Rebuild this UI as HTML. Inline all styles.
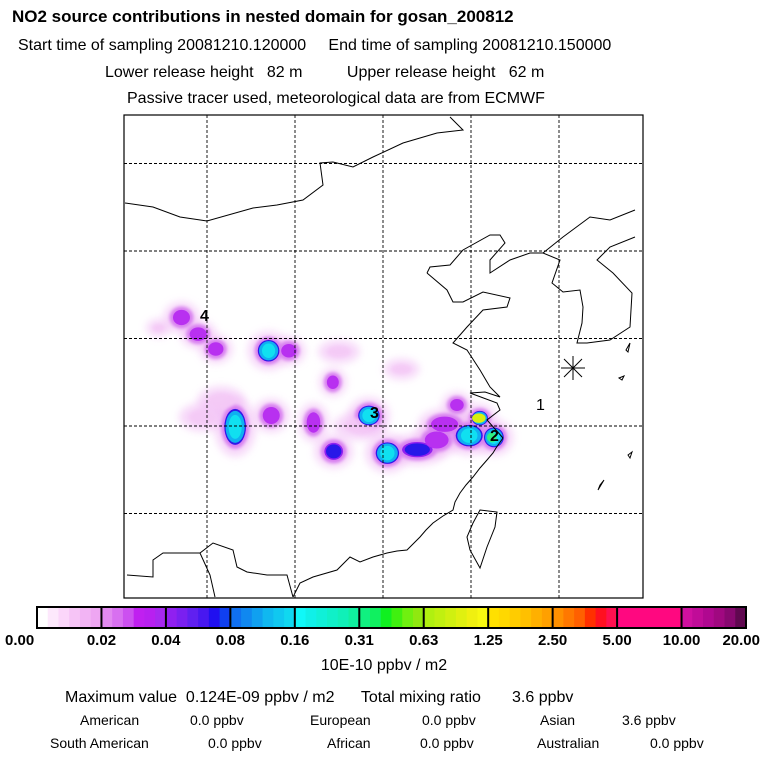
<!DOCTYPE html>
<html><head><meta charset="utf-8"><style>
body{margin:0;background:#fff;width:768px;height:768px;overflow:hidden;font-family:"Liberation Sans",Arial,sans-serif}
svg{position:absolute;left:0;top:0}
</style></head><body>
<svg id="c" width="768" height="768">
<defs><filter id="bl" x="-50%" y="-50%" width="200%" height="200%"><feGaussianBlur stdDeviation="4"/></filter>
<filter id="bl2" x="-50%" y="-50%" width="200%" height="200%"><feGaussianBlur stdDeviation="1.5"/></filter>
<clipPath id="mc"><rect x="124" y="115" width="519" height="483"/></clipPath></defs>
<text x="12" y="22" font-size="17" font-weight="bold">NO2 source contributions in nested domain for gosan_200812</text>
<text x="18" y="50" font-size="16" xml:space="preserve">Start time of sampling 20081210.120000     End time of sampling 20081210.150000</text>
<text x="105" y="77" font-size="16" xml:space="preserve">Lower release height   82 m          Upper release height   62 m</text>
<text x="127" y="103" font-size="16">Passive tracer used, meteorological data are from ECMWF</text>
<g id="map"><g id="blobs" clip-path="url(#mc)"></g>
<g id="coast" fill="none" stroke="#000" stroke-width="1">
<path d="M125 203 L153 207 L180 217 L207 221 L253 208 L277 205 L303 200 L323 185 L320 163 L333 162 L353 167 L373 157 L403 143 L437 133 L463 130 L450 117"/>
<path d="M427 273 L430 267 L450 265 L463 250 L490 235 L500 235 L505 243 L490 260 L490 273 L510 260 L530 253 L543 253 L560 260 L552 283 L563 292 L580 290 L583 307 L582 323 L577 343 L587 343 L610 340 L630 327 L632 293 L613 273 L597 260 L610 247 L635 237"/>
<path d="M543 253 L563 237 L590 217 L610 220 L635 210"/>
<path d="M427 273 L447 290 L453 302 L463 302 L483 292 L510 298 L507 307 L483 310 L467 327 L453 343 L467 350 L480 370 L490 387 L500 397 L485 392 L470 393 L497 403 L500 410 L487 420 L503 438"/>
<path d="M503 438 L496 448 L493 453 L487 460 L480 468 L473 477 L466 485 L460 493 L455 502 L453 510 L443 516 L433 523 L426 530 L420 537 L413 544 L407 550 L397 551 L387 553 L373 557 L360 562 L350 557 L337 570 L313 577 L300 583 L293 597"/>
<path d="M293 597 L287 575 L267 575 L247 572 L237 567 L233 550 L213 543 L200 553 L180 553 L163 553 L153 560 L153 577 L127 575 M200 553 L210 575 L215 597"/>
<path d="M480 510 L497 512 L495 527 L487 547 L480 568 L470 550 L467 537 L473 523 Z"/>
<path d="M626 350 L630 343 L628 352 Z M619 378 L624 376 L622 380 Z M600 485 L604 480 L598 490 Z M628 455 L632 452 L630 458 Z"/>
</g><g id="grid"></g></g>
<g id="cb"></g>
<text x="384" y="670" font-size="16" text-anchor="middle">10E-10 ppbv / m2</text>
<text x="65" y="702" font-size="16" xml:space="preserve">Maximum value  0.124E-09 ppbv / m2      Total mixing ratio       3.6 ppbv</text>
<text x="80" y="725" font-size="14">American</text>
<text x="190" y="725" font-size="14">0.0 ppbv</text>
<text x="310" y="725" font-size="14">European</text>
<text x="422" y="725" font-size="14">0.0 ppbv</text>
<text x="540" y="725" font-size="14">Asian</text>
<text x="622" y="725" font-size="14">3.6 ppbv</text>
<text x="50" y="748" font-size="14">South American</text>
<text x="208" y="748" font-size="14">0.0 ppbv</text>
<text x="327" y="748" font-size="14">African</text>
<text x="420" y="748" font-size="14">0.0 ppbv</text>
<text x="537" y="748" font-size="14">Australian</text>
<text x="650" y="748" font-size="14">0.0 ppbv</text>
</svg>
<script>
const cbLabels=["0.00","0.02","0.04","0.08","0.16","0.31","0.63","1.25","2.50","5.00","10.00","20.00"];
const cbColors=[["#fff","#fde8fc","#fbd6fa","#f6c4f6","#f2b4f4","#eea6f2"],["#e28af0","#d870f0","#cc50f0","#c020f0","#b820f0","#a828f0"],["#9020f0","#7a20f0","#6020f0","#4818f0","#2010f0","#1040f0"],["#1070f0","#1088f0","#10a0f0","#10b8f0","#10c8f0","#10d8f0"],["#10f8f8","#10f0e8","#10f0d8","#10f0c8","#10f0b8","#10f0a0"],["#10f080","#10f060","#10f020","#40f010","#70f010","#90e810"],["#b0f010","#c0f010","#d0f010","#e0f010","#f0f010","#f8f810"],["#ffe000","#ffd800","#ffcc00","#ffc000","#ffb000","#ffa000"],["#ff9000","#ff7800","#ff6000","#ff3000","#ff1020","#ff1050"],["#ff0880","#ff0880","#ff0880","#ff0880","#ff0880","#ff0880"],["#d010a0","#c00c98","#b00890","#a00880","#880870","#600850"]];
const gridLons=[90,100,110,120,130];
const gridLats=[20,30,40,50,60];
const blobLon=[84.5,87.1,89.0,91.0,97.0,99.3,105.0,104.3,112.1,93.2,89.5,97.3,91.6,102.1,104.4,108.4,110.5,113.9,116.1,118.4,121.0,119.8,122.6,107.4,117.0];
const blobLat=[41.2,42.4,40.5,38.8,38.6,38.6,38.5,35.0,36.5,29.9,31.0,31.2,32.9,30.4,27.1,31.2,26.9,27.3,28.4,32.4,30.9,28.9,28.7,30.0,30.2];
const blobVal=[0.01,0.035,0.03,0.03,0.2,0.03,0.012,0.03,0.01,0.2,0.015,0.03,0.012,0.035,0.07,0.18,0.2,0.06,0.035,0.035,1.0,0.15,0.3,0.012,0.03];
const blobRx=[6,10,10,9,12,9,12,7,10,12,14,10,14,8,11,12,13,18,14,8,9,15,11,16,16];
const blobRy=[4,9,8,8,12,8,6,8,5,20,8,10,8,12,10,11,12,9,10,7,8,12,11,8,9];
const NS="http://www.w3.org/2000/svg";
const X0=124,X1=643,Y0=115,Y1=598;
const xLon=l=>207+(l-90)*8.8, yLat=l=>426-(l-30)*8.75;
function mk(t,a,p){const e=document.createElementNS(NS,t);for(const k in a)e.setAttribute(k,a[k]);p.appendChild(e);return e;}
const cb=document.getElementById('cb');
const cbx=37,cbw=709/11;
cbColors.forEach((seg,i)=>{seg.forEach((c,j)=>{const r=mk('rect',{x:cbx+i*cbw+j*cbw/6,y:607,width:cbw/6+0.5,height:21,fill:c},cb);

});
const d=mk('line',{x1:cbx+i*cbw,x2:cbx+i*cbw,y1:607,y2:628,stroke:'#000','stroke-width':2},cb);

});
mk('rect',{x:cbx,y:607,width:709,height:21,fill:'none',stroke:'#000','stroke-width':2},cb);
cbLabels.forEach((s,i)=>{const t=mk('text',{x:cbx+i*cbw,y:645,'font-size':15,'font-weight':'bold','text-anchor':i==0?'start':(i==11?'end':'middle')},cb);t.textContent=s;
if(i==0)t.setAttribute('x',5);if(i==11)t.setAttribute('x',760);

});
const g=document.getElementById('blobs');
const halo=mk('g',{},g),mid=mk('g',{},g),core=mk('g',{},g);
blobLon.forEach((lo,i)=>{const v=blobVal[i],cx=xLon(lo),cy=yLat(blobLat[i]),rx=blobRx[i],ry=blobRy[i];
const h=mk('ellipse',{cx:cx,cy:cy,rx:rx*1.4+4,ry:ry*1.3+4,fill:'#f0b8f4',opacity:0.55,filter:'url(#bl)'},halo);


if(v<0.02){mk('ellipse',{cx:cx,cy:cy,rx:rx,ry:ry,fill:'#f4c8f6',opacity:0.8,filter:'url(#bl2)'},mid);return;}
mk('ellipse',{cx:cx,cy:cy,rx:rx+2,ry:ry+2,fill:'#d880f0',filter:'url(#bl2)'},mid);
const cg=mk('g',{},core);
mk('ellipse',{cx:cx,cy:cy,rx:rx*0.85,ry:ry*0.85,fill:v>=0.04?'#9020f0':'#b830f0'},cg);
if(v>=0.04)mk('ellipse',{cx:cx,cy:cy,rx:rx*0.7,ry:ry*0.7,fill:'#2818e8'},cg);
if(v>=0.08){mk('ellipse',{cx:cx,cy:cy,rx:rx*0.9,ry:ry*0.9,fill:'#3018e8'},cg);mk('ellipse',{cx:cx,cy:cy,rx:rx*0.8,ry:ry*0.8,fill:'#10b0f0'},cg);mk('ellipse',{cx:cx,cy:cy,rx:rx*0.55,ry:ry*0.6,fill:'#10e0f0'},cg);}
if(v>=0.3){mk('ellipse',{cx:cx-2,cy:cy,rx:rx*0.45,ry:ry*0.45,fill:'#30f080'},cg);}
if(v>=0.63){mk('ellipse',{cx:cx-1,cy:cy,rx:rx*0.75,ry:ry*0.6,fill:'#d8f010'},cg);}
});
const grid=document.getElementById('grid');
gridLons.forEach(l=>{const x=xLon(l);const e=mk('line',{x1:x,x2:x,y1:Y0,y2:Y1,stroke:'#000','stroke-dasharray':'3,2','stroke-width':0.9},grid);

});
gridLats.forEach(l=>{const y=yLat(l);if(y<Y0||y>Y1)return;const e=mk('line',{x1:X0,x2:X1,y1:y,y2:y,stroke:'#000','stroke-dasharray':'3,2','stroke-width':0.9},grid);

});
mk('rect',{x:X0,y:Y0,width:X1-X0,height:Y1-Y0,fill:'none',stroke:'#000','stroke-width':1.2},grid);
[["4",200,321],["3",370,418],["2",490,441],["1",536,410]].forEach(a=>{const t=mk('text',{x:a[1],y:a[2],'font-size':16,'font-weight':'bold'},grid);t.textContent=a[0];
if(a[0]=="1")t.setAttribute('font-weight','normal');

});
const st=mk('g',{stroke:'#000','stroke-width':1},grid);


[[561,368,585,368],[573,356,573,380],[564,359,582,377],[564,377,582,359]].forEach(a=>mk('line',{x1:a[0],y1:a[1],x2:a[2],y2:a[3]},st));
</script>
</body></html>
